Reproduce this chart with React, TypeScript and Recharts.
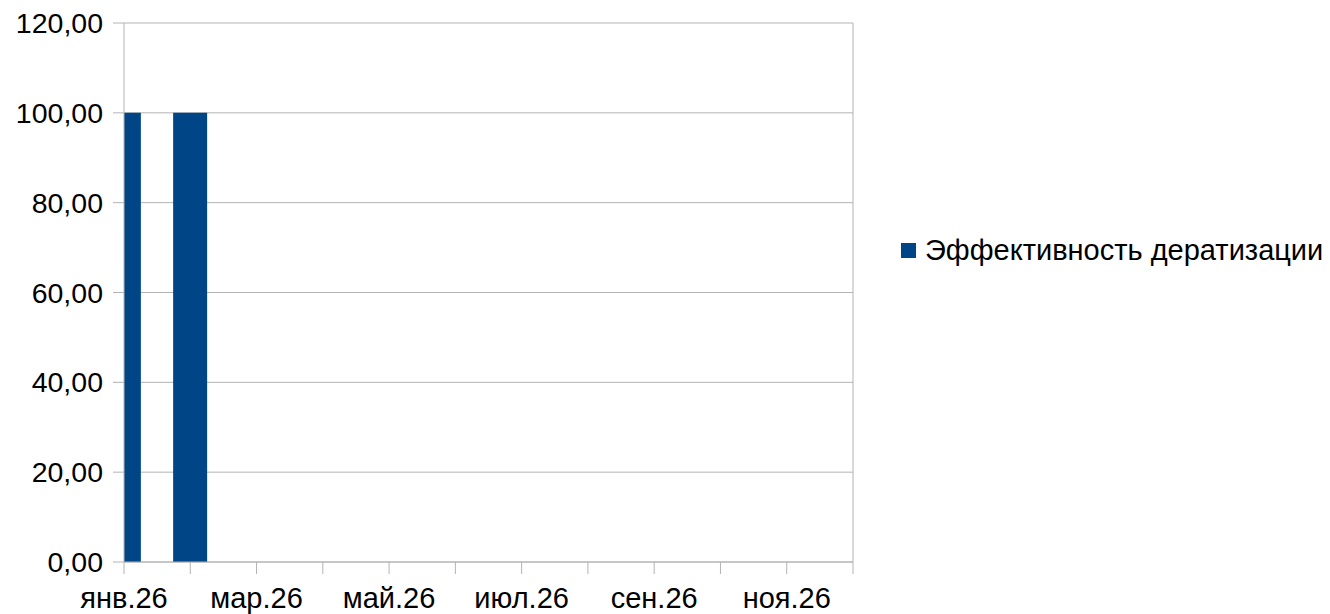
import { BarChart, Bar, XAxis, YAxis, CartesianGrid, ReferenceLine } from 'recharts'

// months of 2026, index 0 = январь
const monthIndex = [0, 1, 2, 3, 4, 5, 6, 7, 8, 9, 10, 11]
const monthLabels = ['янв.26', '', 'мар.26', '', 'май.26', '', 'июл.26', '', 'сен.26', '', 'ноя.26', '']
const effValues: (number | null)[] = [100, 100, null, null, null, null, null, null, null, null, null, null]
const yTicks = [0, 20, 40, 60, 80, 100, 120]
const seriesName = 'Эффективность дератизации'

const data = monthIndex.map((m, i) => ({ m, value: effValues[i] }))

const font = '"Liberation Sans", Arial, sans-serif'
const barColor = '#004586'
const gridColor = '#b3b3b3'

export default function App() {
  return (
    <div style={{ position: 'relative', width: 1330, height: 614, fontFamily: font }}>
      <style>{`body{margin:0}`}</style>
      <BarChart
        width={1330}
        height={614}
        data={data}
        margin={{ top: 23, right: 477, bottom: 0, left: 0 }}
      >
        <CartesianGrid vertical={false} stroke={gridColor} />
        <XAxis
          dataKey="m"
          type="number"
          domain={[0, 11]}
          ticks={monthIndex}
          allowDataOverflow
          height={52}
          tickSize={12}
          tickMargin={13}
          interval={0}
          stroke={gridColor}
          tick={{ fill: '#000', fontSize: 29, fontFamily: font }}
          tickFormatter={(v: number) => monthLabels[v] ?? ''}
        />
        <YAxis
          domain={[0, 120]}
          ticks={yTicks}
          width={124}
          tickSize={11}
          tickMargin={10}
          stroke={gridColor}
          tick={{ fill: '#000', fontSize: 28.5, fontFamily: font }}
          tickFormatter={(v: number) => v.toFixed(2).replace('.', ',')}
        />
        <ReferenceLine x={11} stroke={gridColor} />
        <Bar dataKey="value" name={seriesName} fill={barColor} barSize={34} isAnimationActive={false} />
      </BarChart>
      <div
        style={{
          position: 'absolute',
          left: 901,
          top: 234,
          display: 'flex',
          alignItems: 'center',
          fontSize: 29,
          color: '#000',
          whiteSpace: 'nowrap',
        }}
      >
        <span style={{ display: 'inline-block', width: 15, height: 15, background: barColor, marginRight: 9 }} />
        <span>{seriesName}</span>
      </div>
    </div>
  )
}
